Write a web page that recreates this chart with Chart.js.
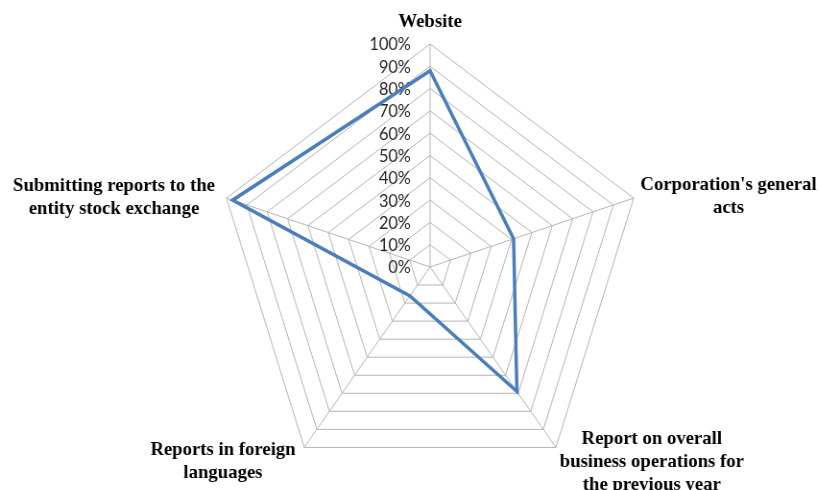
<!DOCTYPE html>
<html>
<head>
<meta charset="utf-8">
<script src="https://cdn.jsdelivr.net/npm/chart.js@4.4.1/dist/chart.umd.min.js"></script>
<style>
  html, body { margin: 0; padding: 0; background: #ffffff; overflow: hidden; }
  #wrap { width: 820px; height: 490px; overflow: hidden; }
  /* the plot is slightly narrower than it is tall */
  #c { display: block; transform: scaleX(0.96); transform-origin: 0 0; }
</style>
</head>
<body>
<div id="wrap"><canvas id="c" width="854" height="490"></canvas></div>
<script>
// Axis categories (multi-line labels)
const categories = [
  ["Website"],
  ["Corporation's general", "acts"],
  ["Report on overall", "business operations for", "the previous year"],
  ["Reports in foreign", "languages"],
  ["Submitting reports to the", "entity stock exchange"]
];
// Share of entities, in percent
const shares = [88, 41, 69, 16, 97];
// Radial tick values
const tickValues = [0, 10, 20, 30, 40, 50, 60, 70, 80, 90, 100];

// Label placement around each outer vertex: horizontal alignment of the block,
// gap from the vertex, and vertical offset of the block's first line.
const labelPlacement = [
  { align: 'center', gap: 0,   dy: -22 },
  { align: 'left',   gap: 7,   dy: -13 },
  { align: 'left',   gap: 4,   dy: -8  },
  { align: 'right',  gap: 9,   dy: 3   },
  { align: 'right',  gap: 12,  dy: -12 }
];

const labelFont = 'bold 19.5px "Liberation Serif", "Times New Roman", serif';
const tickFont = '17px Lato, "Open Sans", sans-serif';
const lineGap = 23;

const radarText = {
  id: 'radarText',
  beforeDatasetsDraw(chart) {
    const scale = chart.scales.r;
    const ctx = chart.ctx;
    ctx.save();
    ctx.font = tickFont;
    ctx.fillStyle = '#262626';
    ctx.textAlign = 'right';
    ctx.textBaseline = 'middle';
    tickValues.forEach(v => {
      const y = scale.yCenter - scale.getDistanceFromCenterForValue(v);
      ctx.fillText(v + '%', scale.xCenter - 20, y + 1);
    });
    ctx.restore();
  },
  afterDraw(chart) {
    const scale = chart.scales.r;
    const ctx = chart.ctx;
    ctx.save();
    ctx.font = labelFont;
    ctx.fillStyle = '#000000';
    ctx.textAlign = 'center';
    ctx.textBaseline = 'middle';
    categories.forEach((lines, i) => {
      const p = scale.getPointPosition(i, scale.drawingArea);
      const place = labelPlacement[i];
      const maxW = Math.max(...lines.map(l => ctx.measureText(l).width));
      let cx = p.x;
      if (place.align === 'left') cx = p.x + place.gap + maxW / 2;
      if (place.align === 'right') cx = p.x - place.gap - maxW / 2;
      lines.forEach((line, k) => {
        ctx.fillText(line, cx, p.y + place.dy + k * lineGap);
      });
    });
    ctx.restore();
  }
};

new Chart(document.getElementById('c'), {
  type: 'radar',
  data: {
    labels: categories,
    datasets: [{
      data: shares,
      borderColor: '#4a7ebb',
      borderWidth: 3.5,
      fill: false,
      tension: 0,
      pointRadius: 0,
      pointHoverRadius: 0
    }]
  },
  options: {
    responsive: false,
    animation: false,
    events: [],
    layout: { padding: { top: 44, bottom: -4, left: 42, right: 0 } },
    plugins: { legend: { display: false }, tooltip: { enabled: false } },
    scales: {
      r: {
        min: 0,
        max: 100,
        ticks: { stepSize: 10, display: false },
        grid: { color: '#b4b4b4', lineWidth: 1 },
        angleLines: { color: '#b4b4b4', lineWidth: 1 },
        pointLabels: { display: false }
      }
    }
  },
  plugins: [radarText]
});
</script>
</body>
</html>
